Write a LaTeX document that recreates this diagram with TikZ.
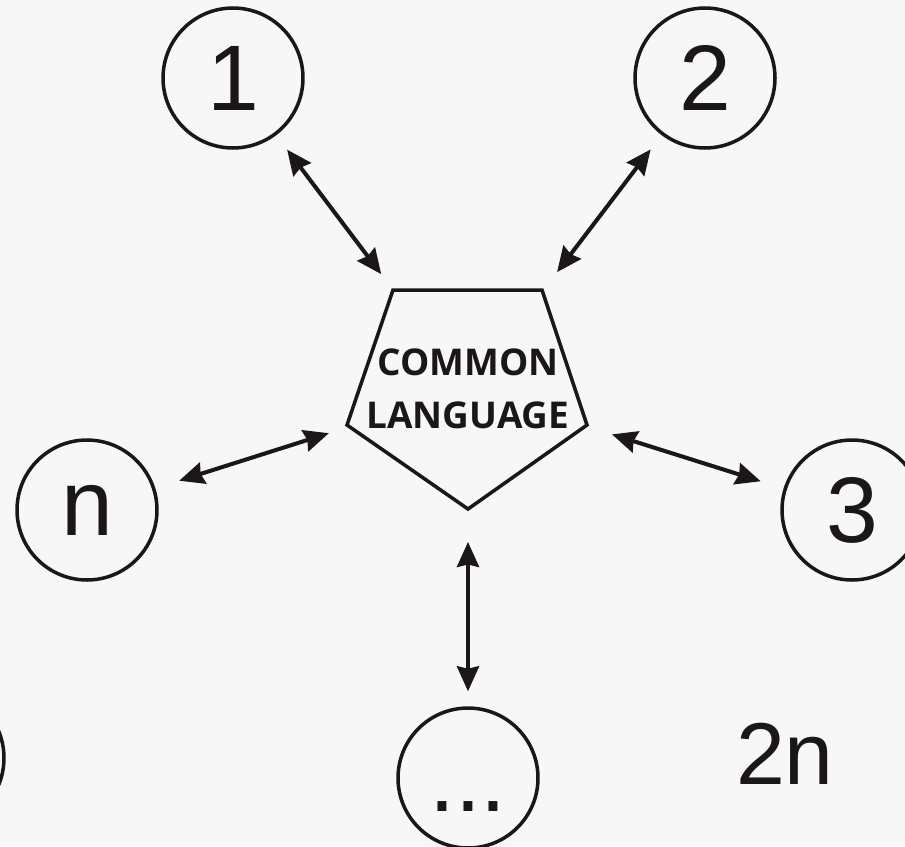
\documentclass[tikz,border=0pt]{standalone}
\usepackage{fontspec}
\setmainfont{Liberation Sans}
\newfontfamily\langfont{Open Sans}
\usetikzlibrary{arrows.meta}
\usetikzlibrary{positioning}
\definecolor{bggray}{HTML}{F7F7F7}
\definecolor{ink}{HTML}{1A1716}

\begin{document}
\begin{tikzpicture}[x=0.02cm,y=-0.02cm,>={Stealth[length=0.5cm,width=0.44cm,inset=0.05cm]},thick,
		main node/.style={circle,draw=ink,line width=2pt,minimum size=2.8cm,inner sep=0pt,text=ink,font=\fontsize{53}{53}\selectfont},
		lang node/.style={align=center,text=ink,font=\langfont\bfseries\fontsize{21}{30}\selectfont},
		link/.style={<->,draw=ink,line width=2.3pt}]
		
		\fill[bggray] (0,0) rectangle (905,846);
		\useasboundingbox (0,0) rectangle (905,846);
		
		\node[main node] at (233,78) (1) {1};
		\node[main node] at (705,78) (2) {2};
		\node[main node] at (852,510) (3) {3};
		\node[main node,text height=38pt,text depth=0pt] at (468,778) (4) {...};
		\node[main node] at (87,510) (n) {n};
		\node[main node] at (-66,758) (0) {};
		\node[text=ink,font=\fontsize{50}{50}\selectfont] at (785,754) (2n) {2n};
		
		\node[lang node] at (468,389) (lang) {COMMON\\LANGUAGE};
		\draw[ink,line width=2pt,line join=miter]
		([shift={(-75,-99)}]lang.center) -- ([shift={(74,-99)}]lang.center) -- ([shift={(119,36)}]lang.center)
		-- ([shift={(0,120)}]lang.center) -- ([shift={(-121,36)}]lang.center) -- cycle;
		
		\path
		(1) edge[link,shorten <=0.36cm,shorten >=2.88cm] (lang.center)
		(2) edge[link,shorten <=0.36cm,shorten >=2.94cm] (lang.center)
		(3) edge[link,shorten <=0.48cm,shorten >=3.02cm] (lang.center)
		(n) edge[link,shorten <=0.50cm,shorten >=2.92cm] (lang.center)
		(4) edge[link,shorten <=0.30cm,shorten >=3.06cm] (lang.center)
		;
		
\end{tikzpicture}
\end{document}
